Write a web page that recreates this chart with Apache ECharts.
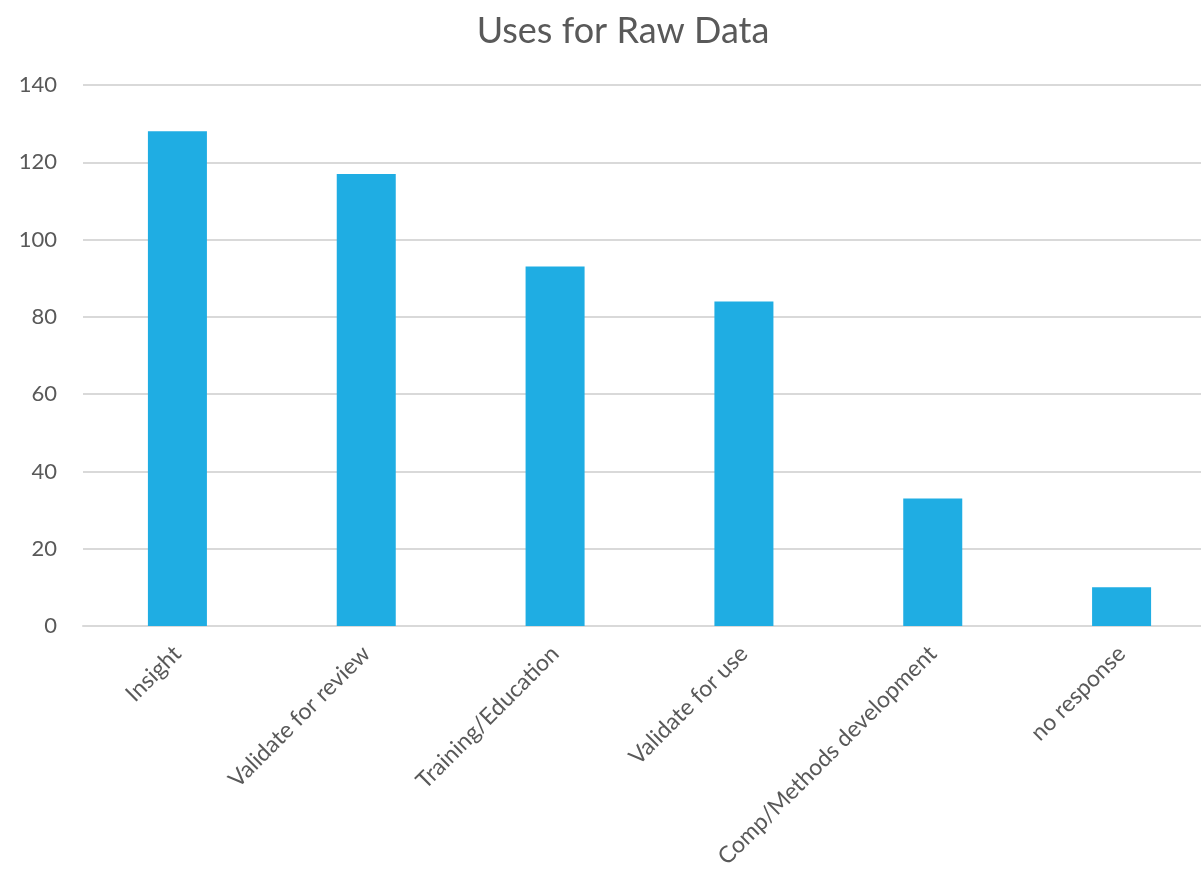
<!DOCTYPE html>
<html>
<head>
<meta charset="utf-8">
<script src="https://cdn.jsdelivr.net/npm/echarts@6/dist/echarts.min.js"></script>
<style>
  html, body { margin: 0; padding: 0; background: #fff; }
  #chart { width: 1201px; height: 872px; }
</style>
</head>
<body>
<div id="chart"></div>
<script>
const categories = ['Insight', 'Validate for review', 'Training/Education', 'Validate for use', 'Comp/Methods development', 'no response'];
const counts = [128, 117, 93, 84, 33, 10];
const yTicks = [0, 20, 40, 60, 80, 100, 120, 140];

const fontFamily = 'Lato, "Open Sans", sans-serif';
const textColor = '#595959';

const chart = echarts.init(document.getElementById('chart'), null, { renderer: 'canvas' });
chart.setOption({
  animation: false,
  backgroundColor: '#ffffff',
  title: {
    text: 'Uses for Raw Data',
    left: 618,
    textAlign: 'center',
    top: 8,
    textStyle: { fontFamily, fontSize: 36, fontWeight: 'normal', color: textColor }
  },
  grid: { left: 83, top: 85, right: -15, height: 541, containLabel: false, outerBoundsMode: 'none' },
  xAxis: {
    type: 'category',
    data: categories,
    axisLine: { lineStyle: { color: '#d9d9d9', width: 2 } },
    axisTick: { show: false },
    axisLabel: {
      rotate: 45,
      interval: 0,
      margin: 24,
      fontFamily, fontSize: 23, color: textColor
    }
  },
  yAxis: {
    type: 'value',
    min: yTicks[0],
    max: yTicks[yTicks.length - 1],
    interval: 20,
    axisLine: { show: false },
    axisTick: { show: false },
    axisLabel: { margin: 26, fontFamily, fontSize: 22, color: textColor },
    splitLine: { lineStyle: { color: '#d9d9d9', width: 2 } }
  },
  series: [{
    type: 'bar',
    data: counts,
    barWidth: '31.25%',
    itemStyle: { color: '#1fade3' }
  }]
});
</script>
</body>
</html>
